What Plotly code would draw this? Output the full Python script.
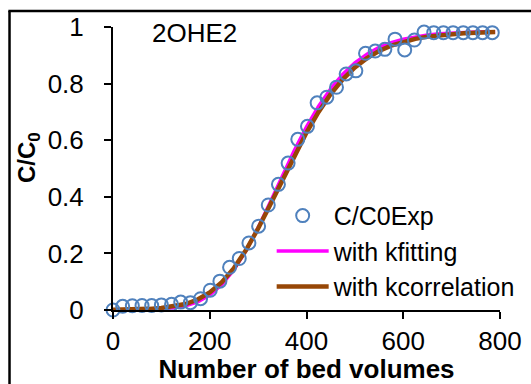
import plotly.graph_objects as go

# Experimental points
bed_exp = [0, 20, 40, 60, 80, 100, 121, 140, 160, 181, 201, 221, 241, 261, 281, 301,
           321, 342, 362, 382, 402, 422, 442, 462, 482, 502, 522, 542, 562, 583,
           603, 623, 643, 663, 683, 703, 724, 744, 764, 784]
c_exp = [0.0, 0.013, 0.015, 0.016, 0.016, 0.018, 0.020, 0.028, 0.026, 0.040, 0.070,
         0.102, 0.151, 0.182, 0.237, 0.296, 0.371, 0.444, 0.519, 0.603, 0.649, 0.732,
         0.752, 0.787, 0.834, 0.845, 0.907, 0.915, 0.921, 0.957, 0.919, 0.954, 0.982,
         0.980, 0.980, 0.980, 0.980, 0.980, 0.980, 0.980]

# Model curves
bed_model = [0, 25, 50, 75, 100, 125, 150, 175, 200, 225, 250, 275, 300, 325, 350,
             375, 400, 425, 450, 475, 500, 525, 550, 575, 600, 625, 650, 675, 700,
             725, 750, 775, 790]
c_kfit = [0.0002, 0.0004, 0.001, 0.002, 0.004, 0.008, 0.015, 0.029, 0.053, 0.090,
          0.142, 0.210, 0.291, 0.381, 0.474, 0.564, 0.647, 0.720, 0.782, 0.833, 0.873,
          0.904, 0.928, 0.945, 0.957, 0.966, 0.972, 0.976, 0.979, 0.981, 0.982, 0.983,
          0.983]
c_kcorr = [0.0005, 0.001, 0.002, 0.004, 0.007, 0.012, 0.021, 0.037, 0.062, 0.098,
           0.148, 0.212, 0.288, 0.372, 0.460, 0.546, 0.627, 0.700, 0.763, 0.815, 0.857,
           0.890, 0.915, 0.934, 0.948, 0.958, 0.966, 0.971, 0.975, 0.978, 0.980, 0.981,
           0.982]

x_ticks = [0, 200, 400, 600, 800]
y_ticks = [0, 0.2, 0.4, 0.6, 0.8, 1]

FONT = "Liberation Sans, Arial, sans-serif"

fig = go.Figure()
fig.add_trace(go.Scatter(x=bed_model, y=c_kfit, mode="lines", name="with kfitting",
                         line=dict(color="#ff00ff", width=3.5), cliponaxis=False,
                         legendrank=2))
fig.add_trace(go.Scatter(x=bed_model, y=c_kcorr, mode="lines", name="with kcorrelation",
                         line=dict(color="#974706", width=4.5), cliponaxis=False,
                         legendrank=3))
fig.add_trace(go.Scatter(x=bed_exp, y=c_exp, mode="markers", name="C/C0Exp",
                         marker=dict(symbol="circle-open", size=13, color="#4f81bd",
                                     line=dict(width=2, color="#4f81bd")),
                         cliponaxis=False, legendrank=1))

# chart frame (only its left and top edges fall inside the picture)
frame_left, frame_top = -0.2674, 1.0565
fig.update_layout(
    width=531, height=384,
    margin=dict(l=113, r=31, t=27, b=74, autoexpand=False),
    paper_bgcolor="white", plot_bgcolor="white",
    font=dict(family=FONT, size=26, color="black"),
    showlegend=True,
    legend=dict(x=0.41, y=0.414, xanchor="left", yanchor="top",
                bgcolor="rgba(0,0,0,0)", font=dict(size=25),
                itemwidth=52, tracegroupgap=0),
    xaxis=dict(range=[0, 800], tickvals=x_ticks, showgrid=False, zeroline=False,
               showline=True, linecolor="black", linewidth=2, automargin=False,
               ticks="outside", ticklen=7, tickwidth=2, tickcolor="black",
               ticklabelstandoff=0,
               title=dict(text="<b>Number of bed volumes</b>", standoff=0,
                          font=dict(size=26))),
    yaxis=dict(range=[0, 1], tickvals=y_ticks, showgrid=False, zeroline=False,
               showline=True, linecolor="black", linewidth=2, automargin=False,
               ticks="outside", ticklen=7, tickwidth=2, tickcolor="black",
               ticklabelstandoff=15),
    annotations=[
        dict(text="2OHE2", xref="paper", yref="paper", x=0.211,
             y=0.98, xanchor="center", yanchor="middle", showarrow=False,
             font=dict(size=26)),
        dict(text="<b>C/C<sub>0</sub></b>", xref="paper", yref="paper",
             x=-0.2196, y=0.537, xanchor="center", yanchor="middle",
             textangle=-90, showarrow=False, font=dict(size=24)),
    ],
    shapes=[
        dict(type="line", xref="paper", yref="paper", x0=frame_left, x1=frame_left,
             y0=-0.35, y1=frame_top, line=dict(color="black", width=2.5)),
        dict(type="line", xref="paper", yref="paper", x0=frame_left - 0.003, x1=1.2,
             y0=frame_top, y1=frame_top, line=dict(color="black", width=2.5)),
    ],
)

fig.write_html("out.html")
